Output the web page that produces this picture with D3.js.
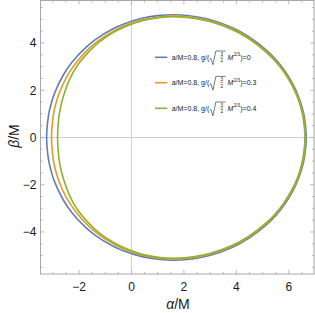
<!DOCTYPE html>
<html><head><meta charset="utf-8">
<script src="https://cdn.jsdelivr.net/npm/d3@7"></script>
<style>body{margin:0;background:#fff}svg{display:block}</style>
</head><body>
<svg id="chart" width="315" height="313"></svg>
<script>
// Upper half of each shadow curve (alpha/M, beta/M); lower half is the mirror image
const seriesNames = ["0", "0.3", "0.4"];
const curveG0 = [[-3.236,0],[-3.173,0.874],[-3.106,1.246],[-2.94,1.858],[-2.6,2.646],[-2.256,3.205],[-1.717,3.839],[-1.339,4.176],[-0.738,4.582],[-0.313,4.796],[0.364,5.034],[1.089,5.169],[1.6,5.196],[2.134,5.167],[2.978,4.997],[3.875,4.637],[4.5,4.25],[5.154,3.692],[5.489,3.319],[5.829,2.848],[6.176,2.216],[6.387,1.686],[6.529,1.183],[6.6,0.812],[6.665,0]];
const curveG03 = [[-3.05,0],[-2.99,0.87],[-2.93,1.24],[-2.77,1.84],[-2.47,2.57],[-2.14,3.12],[-1.63,3.76],[-1.26,4.10],[-0.68,4.51],[-0.27,4.73],[0.39,4.97],[1.10,5.11],[1.60,5.14],[2.13,5.11],[2.96,4.95],[3.85,4.60],[4.47,4.22],[5.12,3.67],[5.46,3.30],[5.80,2.83],[6.15,2.20],[6.36,1.68],[6.50,1.18],[6.57,0.81],[6.635,0]];
const curveG04 = [[-2.82,0],[-2.77,0.87],[-2.71,1.25],[-2.60,1.74],[-2.36,2.46],[-2.07,3.04],[-1.57,3.70],[-1.22,4.05],[-0.65,4.47],[-0.24,4.69],[0.40,4.94],[1.10,5.08],[1.60,5.11],[2.12,5.08],[2.95,4.92],[3.83,4.57],[4.45,4.20],[5.10,3.65],[5.44,3.28],[5.78,2.82],[6.13,2.19],[6.34,1.67],[6.48,1.17],[6.55,0.80],[6.615,0]];
const curves = [curveG0, curveG03, curveG04];
const colors = ["#5e81b5", "#e19c24", "#8fb032"];
const xTicks = [-2, 0, 2, 4, 6];
const yTicks = [-4, -2, 0, 2, 4];

const svg = d3.select("#chart");
const L = 40.5, R = 314, T = 0.5, B = 274;
const x = d3.scaleLinear().domain([-3.47, 6.96]).range([L, R]);
const y = d3.scaleLinear().domain([-5.78, 5.8]).range([B, T]);

// zero gridlines
svg.append("line").attr("x1", x(0)).attr("x2", x(0)).attr("y1", T).attr("y2", B)
  .attr("stroke", "#d0d0d0").attr("stroke-width", 1);
svg.append("line").attr("x1", L).attr("x2", R).attr("y1", y(0)).attr("y2", y(0))
  .attr("stroke", "#d0d0d0").attr("stroke-width", 1);

// curves
const line = d3.line().x(d => x(d[0])).y(d => y(d[1])).curve(d3.curveCatmullRomClosed);
curves.forEach((c, i) => {
  const lower = c.slice(1, -1).map(d => [d[0], -d[1]]).reverse();
  const pts = c.concat(lower);
  svg.append("path").attr("d", line(pts)).attr("fill", "none")
    .attr("stroke", colors[i]).attr("stroke-width", 1.6);
});

// frame
const frameColor = "#a8a8a8";
svg.append("rect").attr("x", L).attr("y", T).attr("width", R - L).attr("height", B - T)
  .attr("fill", "none").attr("stroke", frameColor).attr("stroke-width", 1);

// ticks
const xMajor = d3.range(-2, 7, 2), xMinor = d3.range(-3, 7, 0.5).filter(v => v % 2 !== 0);
const yMajor = d3.range(-4, 5, 2), yMinor = d3.range(-5.5, 5.6, 0.5).filter(v => Math.abs(v % 2) > 1e-9);
const tg = svg.append("g").attr("stroke", frameColor).attr("stroke-width", 0.8);
function xt(v, len) {
  tg.append("line").attr("x1", x(v)).attr("x2", x(v)).attr("y1", B).attr("y2", B - len);
  tg.append("line").attr("x1", x(v)).attr("x2", x(v)).attr("y1", T).attr("y2", T + len);
}
function yt(v, len) {
  tg.append("line").attr("y1", y(v)).attr("y2", y(v)).attr("x1", L).attr("x2", L + len);
  tg.append("line").attr("y1", y(v)).attr("y2", y(v)).attr("x1", R).attr("x2", R - len);
}
xMajor.forEach(v => xt(v, 4)); xMinor.forEach(v => xt(v, 2.2));
yMajor.forEach(v => yt(v, 4)); yMinor.forEach(v => yt(v, 2.2));

const fmt = v => v < 0 ? "\u2212" + Math.abs(v) : String(v);
const font = "'Liberation Sans', Arial, sans-serif";
xTicks.forEach(v => svg.append("text").attr("x", x(v)).attr("y", 290.5)
  .attr("text-anchor", "middle").attr("font-family", font).attr("font-size", 12)
  .attr("fill", "#1a1a1a").text(fmt(v)));
yTicks.forEach(v => svg.append("text").attr("x", 36.5).attr("y", y(v) + 4.3)
  .attr("text-anchor", "end").attr("font-family", font).attr("font-size", 12)
  .attr("fill", "#1a1a1a").text(fmt(v)));

// axis titles
const xl = svg.append("text").attr("x", 178).attr("y", 309).attr("text-anchor", "middle")
  .attr("font-family", font).attr("font-size", 14).attr("fill", "#1a1a1a");
xl.append("tspan").attr("font-style", "italic").text("\u03b1");
xl.append("tspan").text("/M");
const yl = svg.append("text").attr("transform", "translate(19,136) rotate(-90)")
  .attr("text-anchor", "middle").attr("font-family", font).attr("font-size", 14).attr("fill", "#1a1a1a");
yl.append("tspan").attr("font-style", "italic").text("\u03b2");
yl.append("tspan").text("/M");

// legend
const legendRows = [57.3, 82.7, 108.3];
seriesNames.forEach((nm, i) => {
  const cy = legendRows[i], base = cy + 2.3;
  const g = svg.append("g");
  g.append("line").attr("x1", 155).attr("x2", 167.3).attr("y1", cy).attr("y2", cy)
    .attr("stroke", colors[i]).attr("stroke-width", 1.6);
  const t1 = g.append("text").attr("x", 171.7).attr("y", base).attr("font-family", font)
    .attr("font-size", 7).attr("fill", "#222").text("a/M=0.8, g/(");
  const x0 = 171.7 + t1.node().getComputedTextLength() + 0.3;
  g.append("path").attr("d", `M${x0},${cy + 1.8} L${x0 + 1.3},${cy + 1.1} L${x0 + 3.4},${cy + 7.4} L${x0 + 6.3},${cy - 6.3} L${x0 + 16},${cy - 6.3}`)
    .attr("fill", "none").attr("stroke", "#222").attr("stroke-width", 0.6);
  g.append("text").attr("x", x0 + 12.2).attr("y", cy - 1.3).attr("text-anchor", "middle")
    .attr("font-family", font).attr("font-size", 4.6).attr("fill", "#222").text("3");
  g.append("line").attr("x1", x0 + 10.6).attr("x2", x0 + 13.8).attr("y1", cy - 0.2).attr("y2", cy - 0.2)
    .attr("stroke", "#222").attr("stroke-width", 0.4);
  g.append("text").attr("x", x0 + 12.2).attr("y", cy + 4.9).attr("text-anchor", "middle")
    .attr("font-family", font).attr("font-size", 4.6).attr("fill", "#222").text("2");
  const mT = g.append("text").attr("x", x0 + 18).attr("y", base).attr("font-family", font)
    .attr("font-size", 7).attr("font-style", "italic").attr("fill", "#222").text("M");
  const mx = x0 + 18 + mT.node().getComputedTextLength() + 0.3;
  const sT = g.append("text").attr("x", mx).attr("y", base - 3.4).attr("font-family", font)
    .attr("font-size", 4.6).attr("fill", "#222").text("2/3");
  const sx = mx + sT.node().getComputedTextLength() + 0.2;
  g.append("text").attr("x", sx).attr("y", base).attr("font-family", font)
    .attr("font-size", 7).attr("fill", "#222").text(")=" + nm);
});
</script>
</body></html>
